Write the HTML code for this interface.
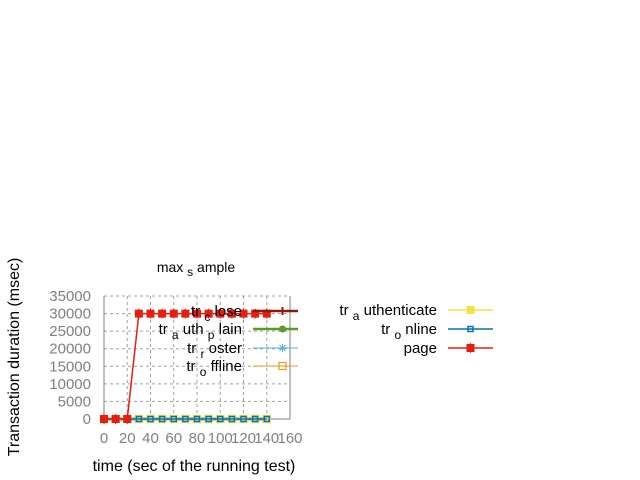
<!DOCTYPE html>
<html><head><meta charset="utf-8">
<style>
html,body{margin:0;padding:0;background:#fff;}
svg{display:block;font-family:"Liberation Sans",sans-serif;}
</style></head>
<body>
<svg id="chart" width="640" height="480" viewBox="0 0 640 480" xmlns="http://www.w3.org/2000/svg">
<g id="grid"></g>
<g id="axes"></g>
<g id="series"></g>
<g id="legend"></g>
<text x="196" y="272" font-size="14" text-anchor="middle" fill="#000" xml:space="preserve">max <tspan font-size="12" dy="4">s</tspan><tspan dy="-4"> ample</tspan></text>
<text x="194" y="471" font-size="16" text-anchor="middle" fill="#000">time (sec of the running test)</text>
<text transform="translate(19,357) rotate(-90)" font-size="16" text-anchor="middle" fill="#000">Transaction duration (msec)</text>
</svg>
<script>
const times = [0,10,20,30,40,50,60,70,80,90,100,110,120,130,140];
const trClose = [0,0,0,0,0,0,0,0,0,0,0,0,0,0,0];
const trAuthPlain = [0,0,0,0,0,0,0,0,0,0,0,0,0,0,0];
const trRoster = [0,0,0,0,0,0,0,0,0,0,0,0,0,0,0];
const trOffline = [0,0,0,0,0,0,0,0,0,0,0,0,0,0,0];
const trAuthenticate = [0,0,0,0,0,0,0,0,0,0,0,0,0,0,0];
const trOnline = [0,0,0,0,0,0,0,0,0,0,0,0,0,0,0];
const page = [0,0,0,30000,30000,30000,30000,30000,30000,30000,30000,30000,30000,30000,30000];
const xTicks = [0,20,40,60,80,100,120,140,160];
const yTicks = [0,5000,10000,15000,20000,25000,30000,35000];

const NS="http://www.w3.org/2000/svg";
const L=104,R=290,T=296,B=419;
const X=v=>L+(v-0)/(160-0)*(R-L);
const Y=v=>B-(v-0)/(35000-0)*(B-T);
function mk(tag,attrs,parent){const e=document.createElementNS(NS,tag);for(const k in attrs)e.setAttribute(k,attrs[k]);parent.appendChild(e);return e;}
const grid=document.getElementById('grid'),axes=document.getElementById('axes'),ser=document.getElementById('series'),leg=document.getElementById('legend');

yTicks.forEach(t=>{
  const y=Y(t);
  if(t>0){const g=mk('line',{x1:L,x2:R,y1:y,y2:y,stroke:'#a0a0a0','stroke-dasharray':'3,3'},grid);
  
  }
  const tx=mk('text',{x:L-13,y:y+5,'font-size':15,'text-anchor':'end',fill:'#808080'},axes);
  tx.textContent=t;
  
  
});
xTicks.forEach(t=>{
  const x=X(t);
  if(t>0&&t<160){const g=mk('line',{x1:x,x2:x,y1:T,y2:B,stroke:'#a0a0a0','stroke-dasharray':'3,3'},grid);
  
  }
  const tx=mk('text',{x:x,y:443,'font-size':15,'text-anchor':'middle',fill:'#808080'},axes);
  tx.textContent=t;
  
  
});
const frame=mk('path',{d:`M${L},${T}V${B}H${R}V${T}`,fill:'none',stroke:'#808080','stroke-width':1},axes);


const topLine=mk('line',{x1:L,x2:R,y1:T,y2:T,stroke:'#a0a0a0','stroke-dasharray':'3,3'},grid);



function marker(type,x,y,color,parent){
  let e;
  if(type==='plus'){e=mk('path',{d:`M${x-4},${y}H${x+4}M${x},${y-4}V${y+4}`,stroke:color,'stroke-width':2},parent);}
  else if(type==='fcircle'){e=mk('circle',{cx:x,cy:y,r:3.5,fill:color},parent);}
  else if(type==='star'){e=mk('path',{d:`M${x-4},${y}H${x+4}M${x},${y-4}V${y+4}M${x-3},${y-3}L${x+3},${y+3}M${x-3},${y+3}L${x+3},${y-3}`,stroke:color,'stroke-width':1},parent);}
  else if(type==='osq'){e=mk('rect',{x:x-3.5,y:y-3.5,width:7,height:7,fill:'none',stroke:color,'stroke-width':1.2},parent);}
  else if(type==='fsq'){e=mk('rect',{x:x-4,y:y-4,width:8,height:8,fill:color},parent);}
  else if(type==='osqs'){e=mk('rect',{x:x-2.5,y:y-2.5,width:5,height:5,fill:'none',stroke:color,'stroke-width':1.5},parent);}
  else if(type==='fsqs'){e=mk('path',{d:`M${x-3.5},${y-3.5}h7v7h-7z M${x},${y-5}V${y+5}`,fill:color,stroke:color,'stroke-width':1},parent);}
  
  
}
const seriesList=[
 {name:'tr_close',vals:trClose,color:'#8b1a0e',w:2.5,m:'plus',label:['tr ','c',' lose'],lx:298,ly:311,col:0},
 {name:'tr_auth_plain',vals:trAuthPlain,color:'#5a9b2a',w:2.5,m:'fcircle',label:['tr ','a',' uth ','p',' lain'],lx:298,ly:329,col:0},
 {name:'tr_roster',vals:trRoster,color:'#55b0ee',w:1,m:'star',label:['tr ','r',' oster'],lx:298,ly:348,col:0},
 {name:'tr_offline',vals:trOffline,color:'#e5a020',w:1,m:'osq',label:['tr ','o',' ffline'],lx:298,ly:366,col:0},
 {name:'tr_authenticate',vals:trAuthenticate,color:'#f0e442',w:1.5,m:'fsq',label:['tr ','a',' uthenticate'],lx:493,ly:310,col:1},
 {name:'tr_online',vals:trOnline,color:'#0a72b2',w:1.5,m:'osqs',label:['tr ','o',' nline'],lx:493,ly:329,col:1},
 {name:'page',vals:page,color:'#e51e10',w:1.5,m:'fsqs',label:['page'],lx:493,ly:348,col:1}
];
seriesList.forEach(s=>{
  const g=mk('g',{},ser);
  
  
  const pts=times.map((t,i)=>X(t)+','+Y(s.vals[i])).join(' ');
  const pl=mk('polyline',{points:pts,fill:'none',stroke:s.color,'stroke-width':s.w},g);
  
  
  times.forEach((t,i)=>marker(s.m,X(t),Y(s.vals[i]),s.color,g));
  const lg=mk('g',{},leg);
  
  
  const x1=s.lx-45,x2=s.lx;
  const ll=mk('line',{x1:x1,x2:x2,y1:s.ly,y2:s.ly,stroke:s.color,'stroke-width':s.w},lg);
  
  
  marker(s.m,(x1+x2)/2+ (s.col?0:7),s.ly,s.color,lg);
  const tx=mk('text',{x:s.lx-56,y:s.ly+5,'font-size':15,'text-anchor':'end',fill:'#000','xml:space':'preserve'},lg);
  
  
  tx.style.whiteSpace='pre';
  s.label.forEach((p,i)=>{
    const ts=mk('tspan',{},tx);
    if(s.label.length>1&&i%2===1){ts.setAttribute('font-size','12');ts.setAttribute('dy','5');}
    else if(i>1&&i%2===0){ts.setAttribute('dy','-5');}
    ts.textContent=p;
  });
});
</script>
</body></html>
